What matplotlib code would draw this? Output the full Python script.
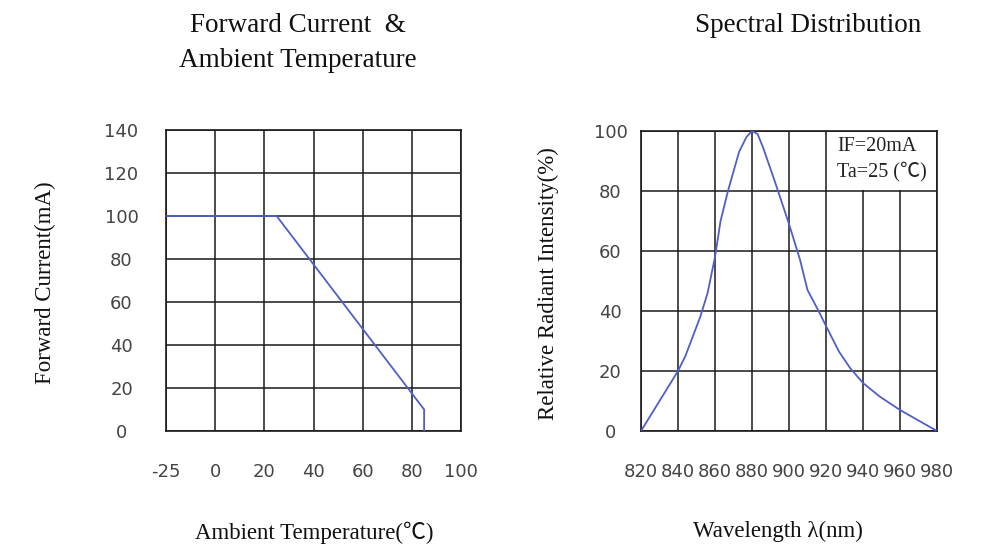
import numpy as np
import matplotlib
matplotlib.use("Agg")
import matplotlib.pyplot as plt

# ---------------- data ----------------
temp_ticks = [-25, 0, 20, 40, 60, 80, 100]
temp_tick_labels = ["-25", "0", "20", "40", "60", "80", "100"]
current_ticks = [0, 20, 40, 60, 80, 100, 120, 140]

derating_temp = [-25, 25, 85, 85]
derating_current = [100, 100, 10, 0]

wl_ticks = [820, 840, 860, 880, 900, 920, 940, 960, 980]
intensity_ticks = [0, 20, 40, 60, 80, 100]

wavelength = [820, 840, 844, 852, 856, 860, 863, 867, 873, 877, 880, 883, 886,
              893, 900, 906, 910, 916, 920, 927, 933, 940, 949, 960, 980]
intensity = [0, 20, 25, 38, 46, 58, 70, 80, 93, 98, 100, 99, 94.5,
             82, 69, 57, 47, 40, 35, 26.5, 21, 16, 11.5, 7, 0]

# ---------------- style ----------------
SERIF = ["Liberation Serif", "Noto Sans CJK SC", "DejaVu Sans"]
TICKFONT = ["DejaVu Sans"]
LINE_COLOR = "#4f5fc6"
GRID_COLOR = "#1a1a1a"
TICK_COLOR = "#444444"

fig = plt.figure(figsize=(9.83, 5.49), dpi=100)
W, H = 983, 549


def axes_px(x0, y0, x1, y1):
    return fig.add_axes([x0 / W, 1 - y1 / H, (x1 - x0) / W, (y1 - y0) / H])


def style_axes(ax, yticks, ypad, xpad):
    # vertical grid below everything, horizontal grid above the annotation box
    ax.grid(True, axis="x", color=GRID_COLOR, linewidth=1.1, zorder=0.5)
    for v in yticks:
        ax.axhline(v, color=GRID_COLOR, linewidth=1.1, zorder=1.5)
    ax.set_axisbelow(True)
    for s in ax.spines.values():
        s.set_color(GRID_COLOR)
        s.set_linewidth(1.2)
    ax.tick_params(axis="both", length=0, labelcolor=TICK_COLOR, labelsize=13)
    ax.tick_params(axis="y", pad=ypad)
    ax.tick_params(axis="x", pad=xpad)
    for lab in ax.get_yticklabels():
        lab.set_ha("center")
        lab.set_family(TICKFONT)
    for lab in ax.get_xticklabels():
        lab.set_family(TICKFONT)


# ---------------- left chart ----------------
ax1 = axes_px(166, 130, 461, 431)
pos = np.arange(len(temp_ticks), dtype=float)
tt = np.array(temp_ticks, dtype=float)
ax1.set_xscale("function",
               functions=(lambda t: np.interp(t, tt, pos),
                          lambda p: np.interp(p, pos, tt)))
ax1.plot(derating_temp, derating_current, color=LINE_COLOR, linewidth=1.3, zorder=3)
ax1.set_xlim(temp_ticks[0], temp_ticks[-1])
ax1.set_ylim(current_ticks[0], current_ticks[-1])
ax1.set_xticks(temp_ticks)
ax1.set_xticklabels(temp_tick_labels)
ax1.set_yticks(current_ticks)
style_axes(ax1, current_ticks, ypad=32, xpad=23)

fig.text(298 / W, 1 - 43 / H, "Forward Current  &\nAmbient Temperature",
         ha="center", va="center", family=SERIF, fontsize=19.5,
         linespacing=1.55, color="#111111")
fig.text(314 / W, 1 - 533 / H, "Ambient Temperature(℃)", ha="center", va="center",
         family=SERIF, fontsize=16.5, color="#111111")
fig.text(45 / W, 1 - 283 / H, "Forward Current(mA)", ha="center", va="center",
         rotation=90, family=SERIF, fontsize=16.5, color="#111111")

# ---------------- right chart ----------------
ax2 = axes_px(641, 131, 937, 431)
ax2.plot(wavelength, intensity, color=LINE_COLOR, linewidth=1.3, zorder=3)
ax2.set_xlim(wl_ticks[0], wl_ticks[-1])
ax2.set_ylim(intensity_ticks[0], intensity_ticks[-1])
ax2.set_xticks(wl_ticks)
ax2.set_yticks(intensity_ticks)
style_axes(ax2, intensity_ticks, ypad=22, xpad=23)

ax2.text((837 - 641) / 296, 0.98, "IF=20mA\nTa=25 (℃)", transform=ax2.transAxes,
         ha="left", va="top", family=SERIF, fontsize=14.5, color="#222222",
         linespacing=1.35, zorder=1,
         bbox=dict(boxstyle="square,pad=0.42", facecolor="white", edgecolor="none"))

fig.text(808 / W, 1 - 25 / H, "Spectral Distribution", ha="center", va="center",
         family=SERIF, fontsize=19.5, color="#111111")
fig.text(778 / W, 1 - 531 / H, "Wavelength λ(nm)", ha="center", va="center",
         family=SERIF, fontsize=16.5, color="#111111")
fig.text(548 / W, 1 - 284 / H, "Relative Radiant Intensity(%)", ha="center",
         va="center", rotation=90, family=SERIF, fontsize=16.5, color="#111111")

fig.savefig("out.png", dpi=100, facecolor="white")
